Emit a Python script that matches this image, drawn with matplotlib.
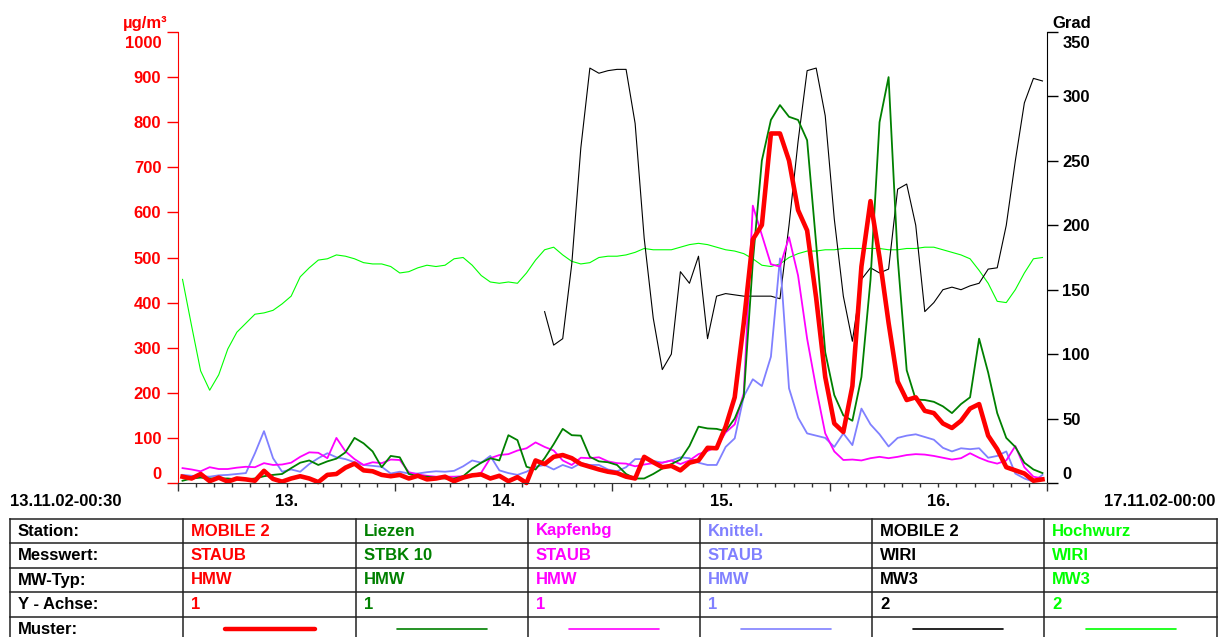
import numpy as np
import matplotlib.pyplot as plt
from matplotlib.transforms import ScaledTranslation

plt.rcParams['font.family'] = ['Liberation Sans', 'DejaVu Sans']

# hourly readings, hours since 13.11.02 00:00
hours = np.arange(0.5, 96, 1.0)

staub_mobile2 = [14, 10, 20, 4, 12, 3, 10, 8, 5, 27, 9, 3, 10, 15, 10, 2, 18, 20, 34, 43, 28, 26, 18, 15, 18,
                 10, 16, 8, 10, 14, 4, 12, 17, 19, 10, 16, 4, 13, 0, 50, 42, 58, 62, 55, 42, 36, 30, 25, 22,
                 14, 10, 58, 46, 35, 38, 28, 45, 50, 78, 77, 125, 190, 355, 540, 572, 775, 775, 715, 605, 560, 410, 235, 132,
                 113, 215, 480, 625, 500, 355, 225, 184, 190, 160, 155, 132, 122, 138, 165, 175, 105, 75, 35, 28, 21, 5, 8]

stbk_liezen = [5, 10, 12, 10, 10, 10, 8, 8, 10, 15, 18, 20, 33, 45, 50, 40, 48, 54, 68, 100, 88, 70, 35, 60, 57,
               20, 15, 14, 12, 10, 10, 15, 32, 45, 55, 50, 106, 95, 36, 30, 55, 86, 120, 106, 105, 58, 48, 46, 40,
               20, 10, 10, 20, 32, 42, 52, 82, 125, 121, 120, 115, 143, 191, 490, 715, 805, 838, 812, 805, 760, 530, 290, 195,
               150, 138, 235, 450, 800, 900, 500, 250, 185, 184, 180, 170, 155, 175, 190, 320, 245, 155, 100, 80, 45, 30, 22]

staub_kapfenbg = [33, 30, 26, 35, 31, 31, 34, 36, 35, 44, 40, 41, 45, 58, 68, 67, 55, 100, 70, 53, 40, 46, 44, 52, 51,
                  24, 19, 16, 14, 14, 14, 15, 17, 23, 55, 62, 64, 72, 77, 90, 80, 72, 50, 40, 56, 55, 57, 48, 44,
                  43, 37, 41, 44, 45, 50, 42, 50, 64, 71, 80, 112, 130, 199, 615, 550, 485, 480, 545, 460, 320, 210, 110, 70,
                  51, 52, 50, 55, 58, 55, 58, 62, 64, 63, 60, 56, 52, 55, 66, 56, 48, 43, 50, 82, 35, 14, 10]

staub_knittel = [18, 16, 15, 14, 17, 18, 20, 22, 66, 115, 55, 25, 30, 25, 42, 55, 66, 57, 53, 46, 40, 38, 36, 21, 25,
                 21, 21, 24, 26, 25, 27, 37, 50, 45, 60, 28, 22, 18, 25, 36, 40, 30, 40, 33, 44, 40, 40, 30, 26,
                 35, 53, 53, 49, 45, 50, 57, 55, 45, 40, 40, 80, 99, 192, 230, 215, 280, 498, 210, 145, 110, 105, 100, 80,
                 110, 84, 165, 130, 108, 81, 100, 105, 108, 102, 96, 78, 70, 77, 75, 77, 56, 60, 70, 21, 10, 3, 18]

wiri_mobile2 = [np.nan] * 40 + [133, 107, 112, 170, 260, 322, 318, 320, 321, 321,
                                279, 190, 128, 88, 100, 164, 155, 176, 112, 145,
                                147, 146, 145, 145, 145, 145, 143, 200, 265, 320,
                                322, 285, 205, 145, 110, 158, 167, 163, 166, 228,
                                232, 200, 133, 140, 150, 152, 150, 153, 155, 166,
                                167, 200, 250, 295, 314, 312]

wiri_hochwurz = [158, 122, 87, 72, 84, 104, 117, 124, 131, 132, 134, 139, 145, 160, 167, 173, 174, 177, 176, 174, 171, 170, 170, 168, 163,
                 164, 167, 169, 168, 169, 174, 175, 169, 161, 156, 155, 156, 155, 163, 173, 181, 183, 177, 172, 170, 171, 175, 176, 176,
                 177, 179, 182, 181, 181, 181, 183, 185, 186, 185, 183, 181, 180, 178, 174, 169, 168, 170, 175, 178, 180, 180, 181, 181,
                 182, 182, 182, 182, 182, 181, 181, 182, 182, 183, 183, 181, 179, 177, 174, 165, 155, 141, 140, 150, 163, 174, 175]

# table content
stations = ['MOBILE 2', 'Liezen', 'Kapfenbg', 'Knittel.', 'MOBILE 2', 'Hochwurz']
messwerte = ['STAUB', 'STBK 10', 'STAUB', 'STAUB', 'WIRI', 'WIRI']
mw_typen = ['HMW', 'HMW', 'HMW', 'HMW', 'MW3', 'MW3']
y_achsen = ['1', '1', '1', '1', '2', '2']
farben = ['#ff0000', '#008000', '#ff00ff', '#8080ff', '#000000', '#00ff00']
breiten = [3.3, 1.3, 1.3, 1.3, 0.8, 0.8]
row_titles = ['Station:', 'Messwert:', 'MW-Typ:', 'Y - Achse:', 'Muster:']

W, H = 1218, 637
fig = plt.figure(figsize=(W / 100, H / 100), dpi=100)

ax = fig.add_axes([178 / W, 1 - 483 / H, 869 / W, 451 / H])
ax2 = ax.twinx()
ax.set_zorder(2)
ax2.set_zorder(1)
ax.patch.set_visible(False)

# right axis (Grad)
ax2.plot(hours, wiri_hochwurz, color=farben[5], lw=breiten[5])
ax2.plot(hours, wiri_mobile2, color=farben[4], lw=breiten[4])

# left axis (ug/m3)
ax.plot(hours, staub_knittel, color=farben[3], lw=breiten[3], clip_on=False)
ax.plot(hours, staub_kapfenbg, color=farben[2], lw=breiten[2], clip_on=False)
ax.plot(hours, stbk_liezen, color=farben[1], lw=breiten[1], clip_on=False)
ax.plot(hours, staub_mobile2, color=farben[0], lw=breiten[0], clip_on=False,
        solid_joinstyle='round')

ax.set_xlim(0, 96)
ax.set_ylim(0, 1000)
ax2.set_ylim(0, 350)

for s in ['top', 'right']:
    ax.spines[s].set_visible(False)
ax.spines['left'].set_color('red')
ax.spines['bottom'].set_color('#333333')
for s in ['top', 'left', 'bottom']:
    ax2.spines[s].set_visible(False)
ax2.spines['right'].set_color('black')

ax.set_xticks([0, 24, 48, 72, 96])
ax.set_xticks(np.arange(0, 97, 2), minor=True)
ax.tick_params(axis='x', which='major', length=6, width=1, color='#333333', labelbottom=False)
ax.tick_params(axis='x', which='minor', length=3, width=1, color='#333333')

ax.set_yticks(range(0, 1001, 100))
ax.set_yticklabels([str(v) for v in range(0, 1001, 100)], fontweight='bold', color='red', fontsize=12)
ax.tick_params(axis='y', length=8, width=1, color='red', pad=4)

ax2.set_yticks(range(0, 351, 50))
ax2.set_yticklabels([str(v) for v in range(0, 351, 50)], fontweight='bold', color='black', fontsize=12)
ax2.tick_params(axis='y', length=8, width=1, color='black', pad=3)

# nudge the end labels away from the corners
for labels in (ax.get_yticklabels(), ax2.get_yticklabels()):
    labels[0].set_transform(labels[0].get_transform() + ScaledTranslation(0, 0.10, fig.dpi_scale_trans))
    labels[-1].set_transform(labels[-1].get_transform() + ScaledTranslation(0, -0.10, fig.dpi_scale_trans))

# day labels centred on each day
for i, day in enumerate(['13.', '14.', '15.', '16.']):
    ax.text(12 + 24 * i, -0.04, day, transform=ax.get_xaxis_transform(),
            ha='center', va='center', fontsize=12, fontweight='bold')

# overlay in pixel coordinates for the texts around and the table
ov = fig.add_axes([0, 0, 1, 1], zorder=3)
ov.set_xlim(0, W)
ov.set_ylim(H, 0)
ov.axis('off')
ov.patch.set_visible(False)

ov.text(167, 28, 'µg/m³', ha='right', va='baseline', color='red', fontsize=12, fontweight='bold')
ov.text(1052, 28, 'Grad', ha='left', va='baseline', color='black', fontsize=12, fontweight='bold')
ov.text(66, 501, '13.11.02-00:30', ha='center', va='center', fontsize=12, fontweight='bold')
ov.text(1160, 501, '17.11.02-00:00', ha='center', va='center', fontsize=12, fontweight='bold')

col_edges = [10, 183, 356, 528, 700, 872, 1044, 1217]
row_edges = [519, 543, 568, 592, 617, 641]

for x in col_edges:
    ov.plot([x, x], [row_edges[0], row_edges[-1]], color='#222222', lw=1.1, clip_on=True)
for y in row_edges:
    ov.plot([col_edges[0], col_edges[-1]], [y, y], color='#222222', lw=1.1, clip_on=True)

for r, title in enumerate(row_titles):
    ym = (row_edges[r] + row_edges[r + 1]) / 2
    ov.text(col_edges[0] + 8, ym, title, ha='left', va='center', fontsize=12, fontweight='bold')

for c in range(6):
    x0 = col_edges[c + 1] + 8
    for r, vals in enumerate([stations, messwerte, mw_typen, y_achsen]):
        ym = (row_edges[r] + row_edges[r + 1]) / 2
        ov.text(x0, ym, vals[c], ha='left', va='center', fontsize=12,
                fontweight='bold', color=farben[c])
    xm = (col_edges[c + 1] + col_edges[c + 2]) / 2
    ov.plot([xm - 45, xm + 45], [629, 629], color=farben[c],
            lw=3.2 if c == 0 else 1.2, solid_capstyle='round')

fig.savefig('out.png', dpi=100)
